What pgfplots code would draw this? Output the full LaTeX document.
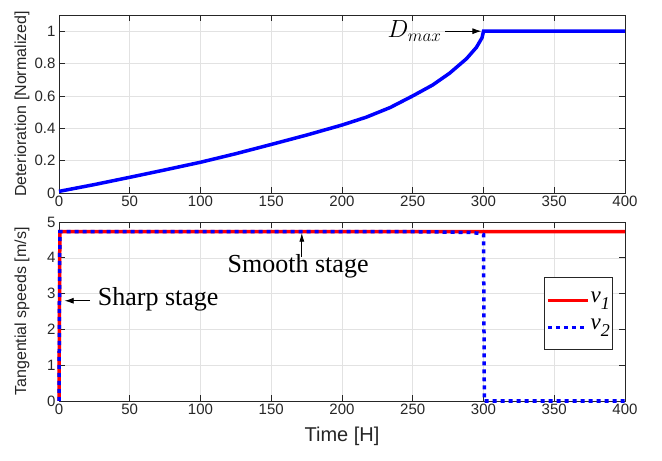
\documentclass[border=0pt]{standalone}
\usepackage{fontspec}
\setmainfont{Liberation Sans}
\newfontfamily\timesf{Liberation Serif}
\usepackage{pgfplots}
\pgfplotsset{compat=1.18}
\usetikzlibrary{arrows.meta}
\definecolor{axgray}{RGB}{38,38,38}
\definecolor{gridgray}{RGB}{226,226,226}
\newcommand{\vsub}[1]{v\raisebox{-0.6ex}{\fontsize{18bp}{18bp}\selectfont #1}}
\pgfplotsset{matlab/.style={
  scale only axis, width=566bp, xmin=0, xmax=400, xtick={0,50,...,400},
  grid=major, major grid style={gridgray, line width=0.6bp},
  axis line style={axgray, line width=0.7bp},
  tick style={axgray, line width=0.7bp}, major tick length=6bp,
  tick align=inside, clip=false,
  ticklabel style={font=\fontsize{15bp}{17bp}\selectfont, text=axgray},
  /pgf/number format/assume math mode=true,
  ylabel style={font=\fontsize{16bp}{19bp}\selectfont, text=axgray,
    at={(axis description cs:-0.0654,0.5)}, anchor=center, rotate=0},
  xlabel style={font=\fontsize{20bp}{23bp}\selectfont, text=axgray,
    at={(axis description cs:0.5,-0.2)}, anchor=center},
}}
\begin{document}
\begin{tikzpicture}
\path[use as bounding box] (0,0) rectangle (662bp,461bp);
\begin{axis}[matlab, at={(59bp,268bp)}, anchor=south west, height=178bp,
  ymin=0, ymax=1.1, ytick={0,0.2,0.4,0.6,0.8,1},
  ylabel={Deterioration [Normalized]}]
\addplot[blue, line width=3.5bp] coordinates {
(0,0.01)(25,0.052)(50,0.097)(75,0.143)(100,0.19)(125,0.243)(150,0.30)(175,0.358)(200,0.42)(217,0.468)(234,0.528)(250,0.600)(264,0.667)(276,0.74)(288,0.83)(295,0.90)(299,0.96)(300,1.0)(400,1.0)};
\draw[-{Latex[length=9bp,width=6bp]}, line width=0.8bp] (axis cs:273,1.0) -- (axis cs:298.5,1.0);
\node[anchor=east, inner sep=0pt, font=\fontsize{26bp}{30bp}\selectfont] at (axis cs:270.5,1.0) {$D_{max}$};
\end{axis}
\begin{axis}[matlab, at={(59bp,60bp)}, anchor=south west, height=179bp,
  ymin=0, ymax=5, ytick={0,1,2,3,4,5},
  ylabel={Tangential speeds [m/s]}, xlabel={Time [H]},
  legend style={at={(0.979,0.690)}, anchor=north east, draw=axgray, line width=0.7bp,
    fill=white, font=\timesf\itshape\fontsize{23bp}{25bp}\selectfont,
    /tikz/every even column/.append style={column sep=0bp},
    inner xsep=2bp, inner ysep=9bp, nodes={inner sep=1bp, text height=15bp, text depth=10bp}},
  legend cell align=left,
  legend image code/.code={\draw[#1] (0bp,0bp) -- (40bp,0bp);}]
\addplot[red, line width=3.5bp] coordinates {(0,0)(0.6,4.73)(400,4.73)};
\addlegendentry{\vsub{1}}
\addplot[blue, line width=3.5bp, dash pattern=on 4bp off 4bp] coordinates {(0,0)(0.6,4.73)(250,4.73)(290,4.71)(298,4.68)(300,4.65)(300.6,0)(400,0)};
\addlegendentry{\vsub{2}}
\draw[-{Latex[length=9bp,width=6bp]}, line width=0.8bp] (axis cs:22,2.8) -- (axis cs:4,2.8);
\node[anchor=west, font=\timesf\fontsize{26bp}{30bp}\selectfont] at (axis cs:25,2.85) {Sharp stage};
\draw[-{Latex[length=9bp,width=5bp]}, line width=0.8bp] (axis cs:171.6,4.02) -- (axis cs:171.6,4.70);
\node[font=\timesf\fontsize{26bp}{30bp}\selectfont] at (axis cs:169,3.77) {Smooth stage};
\end{axis}
\end{tikzpicture}
\end{document}
